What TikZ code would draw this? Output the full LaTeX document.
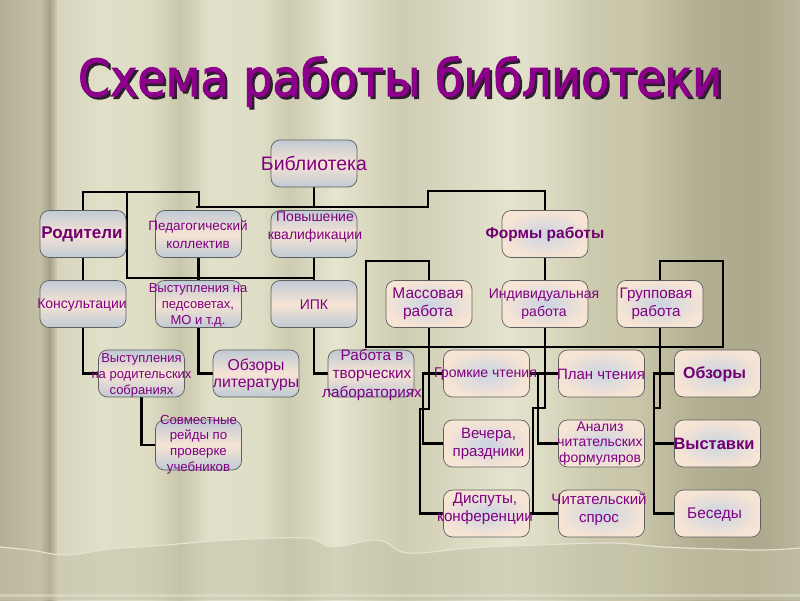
\documentclass[tikz,border=0pt]{standalone}
\usepackage{fontspec}
\usepackage{graphicx}
\setmainfont{Liberation Sans}
\newfontfamily\titlefont[FakeBold=2]{DejaVu Sans}
\pgfdeclarelayer{bg}
\pgfdeclarelayer{lines}
\pgfsetlayers{bg,lines,main}
\definecolor{bxgrey}{RGB}{192,202,212}
\definecolor{bxpeach}{RGB}{246,228,212}
\definecolor{bxblue}{RGB}{202,212,226}
\definecolor{bxline}{RGB}{95,95,95}
\definecolor{tpurple}{RGB}{128,0,128}
\definecolor{tpurpleb}{RGB}{112,0,112}
\definecolor{ttl}{RGB}{140,0,140}
\definecolor{ttlsh}{RGB}{45,30,45}
\definecolor{s0}{RGB}{180,175,150}
\definecolor{s1}{RGB}{195,192,165}
\definecolor{s2}{RGB}{165,160,135}
\definecolor{s3}{RGB}{215,213,190}
\definecolor{s4}{RGB}{224,223,200}
\definecolor{s5}{RGB}{222,221,196}
\definecolor{s6}{RGB}{200,198,170}
\definecolor{s7}{RGB}{225,225,202}
\definecolor{s8}{RGB}{222,222,198}
\definecolor{s9}{RGB}{205,203,176}
\definecolor{s10}{RGB}{230,230,208}
\definecolor{s11}{RGB}{222,221,197}
\definecolor{s12}{RGB}{206,205,178}
\definecolor{s13}{RGB}{214,213,188}
\definecolor{s14}{RGB}{228,228,207}
\definecolor{s15}{RGB}{220,219,195}
\definecolor{s16}{RGB}{205,203,175}
\definecolor{s17}{RGB}{200,197,168}
\definecolor{s18}{RGB}{178,174,145}
\definecolor{s19}{RGB}{172,168,140}
\definecolor{s20}{RGB}{185,182,155}
\definecolor{floor}{RGB}{196,194,166}
\definecolor{hem}{RGB}{228,226,208}
\tikzset{
  box/.style={draw=bxline, line width=0.7pt, rounded corners=9pt, minimum width=86pt, minimum height=47pt, inner sep=0pt},
  boxL/.style={box, top color=bxgrey, bottom color=bxgrey, middle color=bxpeach},
  boxR/.style={box, inner color=bxblue, outer color=bxpeach},
  txt/.style={text=tpurple, align=center, inner sep=0pt},
  txtb/.style={text=tpurpleb, align=center, inner sep=0pt},
  conn/.style={draw=black, line width=2.6pt}
}
\newcommand\fz[2]{\fontsize{#1}{#2}\selectfont}
\begin{document}
\begin{tikzpicture}[x=1pt,y=-1pt]
\useasboundingbox (0,0) rectangle (800,600);
\begin{pgfonlayer}{bg}
\foreach \xa/\xb/\ca/\cb in {0/40/s0/s1, 40/50/s1/s2, 50/58/s2/s3, 58/100/s3/s4, 100/150/s4/s5, 150/180/s5/s6, 180/210/s6/s7, 210/260/s7/s8, 260/290/s8/s9, 290/335/s9/s10, 335/355/s10/s11, 355/400/s11/s12, 400/440/s12/s13, 440/510/s13/s14, 510/545/s14/s15, 545/590/s15/s16, 590/640/s16/s17, 640/700/s17/s18, 700/755/s18/s19, 755/800/s19/s20}
  \shade[left color=\ca, right color=\cb] (\xa-0.5,0) rectangle (\xb+0.5,600);
\fill[floor, opacity=0.55] plot[smooth, tension=0.6] coordinates {(0,547) (30,550) (66,555) (110,549) (153,546) (230,540) (306,538) (332,547) (378,540) (408,553) (470,548) (540,545) (612,543) (663,547) (720,549) (765,550) (800,548)} -- (800,600) -- (0,600) -- cycle;
\draw[hem, line width=1.2pt] plot[smooth, tension=0.6] coordinates {(0,547) (30,550) (66,555) (110,549) (153,546) (230,540) (306,538) (332,547) (378,540) (408,553) (470,548) (540,545) (612,543) (663,547) (720,549) (765,550) (800,548)};
\fill[hem, opacity=0.5] (0,594) rectangle (800,597);
\end{pgfonlayer}

% title
\node[anchor=base, text=ttlsh] (titlesh) at (402.5,98.5) {\titlefont\fz{51}{56}\resizebox{644pt}{\height}{Схема работы библиотеки}};
\node[anchor=base, text=ttl] (title) at (400,96) {\titlefont\fz{51}{56}\resizebox{644pt}{\height}{Схема работы библиотеки}};

% boxes
\node[boxL] (bib) at (314,163.5) {};
\node[boxL] (rod) at (83,234) {};
\node[boxL] (ped) at (198.5,234) {};
\node[boxL] (pov) at (314,234) {};
\node[boxR] (forms) at (545,234) {};
\node[boxL] (kons) at (83,304) {};
\node[boxL] (vyst) at (198.5,304) {};
\node[boxL] (ipk) at (314,304) {};
\node[boxR] (mass) at (429,304) {};
\node[boxR] (ind) at (545,304) {};
\node[boxR] (grp) at (660,304) {};
\node[boxL] (vrs) at (141.5,373.5) {};
\node[boxL] (obzl) at (256,373.5) {};
\node[boxL] (tvor) at (371,373.5) {};
\node[boxR] (grom) at (486.5,373.5) {};
\node[boxR] (plan) at (601.5,373.5) {};
\node[boxR] (obz) at (717.5,373.5) {};
\node[boxL, minimum height=50pt] (sovm) at (198.5,445) {};
\node[boxR] (vech) at (486.5,443.5) {};
\node[boxR] (anal) at (601.5,443.5) {};
\node[boxR] (vystav) at (717.5,443.5) {};
\node[boxR] (disp) at (486.5,513.5) {};
\node[boxR] (chit) at (601.5,513.5) {};
\node[boxR] (bes) at (717.5,513.5) {};

% connectors
\begin{pgfonlayer}{lines}
\draw[conn] (bib.south) -- (314,207);
\draw[conn] (196,207) -- (428,207) -- (428,191) -- (545,191) -- (forms.north);
\draw[conn] (rod.north) -- (83,192) -- (199,192) -- (199,207);
\draw[conn] (127,192) -- (127,278) -- (314,278);
\draw[conn] (ped.south) -- (vyst.north);
\draw[conn] (pov.south) -- (ipk.north);
\draw[conn] (rod.south) -- (kons.north);
\draw[conn] (kons.south) |- (vrs.west);
\draw[conn] (vrs.south) |- (sovm.west);
\draw[conn] (vyst.south) |- (obzl.west);
\draw[conn] (ipk.south) |- (tvor.west);
\draw[conn] (forms.south) -- (ind.north);
\draw[conn] (mass.north) -- (429,261) -- (366,261) -- (366,347) -- (723,347) -- (723,261) -- (660,261) -- (grp.north);
\draw[conn] (mass.south) -- (429,409) -- (420,409) -- (420,513.5) -- (disp.west);
\draw[conn] (grom.west) -- (423,373.5) -- (423,443.5) -- (vech.west);
\draw[conn] (ind.south) -- (545,408) -- (533,408) -- (533,513.5);
\draw[conn] (disp.east) -- (chit.west);
\draw[conn] (grom.east) -- (plan.west);
\draw[conn] (538,373.5) -- (538,443.5) -- (anal.west);
\draw[conn] (grp.south) -- (660,408) -- (654,408);
\draw[conn] (obz.west) -- (654,373.5) -- (654,513.5) -- (bes.west);
\draw[conn] (654,443.5) -- (vystav.west);
\end{pgfonlayer}

% texts
\node[txt, font=\fz{19.5}{22}] (bibt) at (314,163) {Библиотека};
\node[txtb, font=\bfseries\fz{17}{20}] (rodt) at (82,234) {Родители};
\node[txt, font=\fz{13.5}{18}] (pedt) at (198,235) {Педагогический\\коллектив};
\node[txt, font=\fz{14}{18}] (povt) at (315,227) {Повышение\\квалификации};
\node[txtb, font=\bfseries\fz{15.5}{18}] (formt) at (545,234) {Формы работы};
\node[txt, font=\fz{14}{17}] (konst) at (82,305) {Консультации};
\node[txt, font=\fz{13}{16}] (vystt) at (198,305) {Выступления на\\педсоветах,\\МО и т.д.};
\node[txt, font=\fz{14}{17}] (ipkt) at (314,305) {ИПК};
\node[txt, font=\fz{15.5}{18}] (masst) at (428,304) {Массовая\\работа};
\node[txt, font=\fz{14}{18}] (indt) at (544,304) {Индивидуальная\\работа};
\node[txt, font=\fz{15.2}{18}] (grpt) at (656,304) {Групповая\\работа};
\node[txt, font=\fz{13}{16}] (vrst) at (141.5,375) {Выступления\\на родительских\\собраниях};
\node[txt, font=\fz{15.8}{17}] (obzlt) at (256,374.5) {Обзоры\\литературы};
\node[txt, font=\fz{15.3}{18.5}] (tvort) at (372,374.5) {Работа в\\творческих\\лабораториях};
\node[txt, font=\fz{13.2}{15.6}] (sovt) at (198.5,444.5) {Совместные\\рейды по\\проверке\\учебников};
\node[txt, font=\fz{14.1}{17}] (gromt) at (485.5,374) {Громкие чтения};
\node[txt, font=\fz{15}{17}] (plant) at (601,374) {План чтения};
\node[txtb, font=\bfseries\fz{16}{19}] (obzt) at (714.5,374) {Обзоры};
\node[txt, font=\fz{15}{18}] (vecht) at (488.5,444) {Вечера,\\праздники};
\node[txt, font=\fz{13.9}{15.5}] (analt) at (600,443.5) {Анализ\\читательских\\формуляров};
\node[txtb, font=\bfseries\fz{16.5}{19}] (vystavt) at (714,444) {Выставки};
\node[txt, font=\fz{15.2}{18}] (dispt) at (485,509) {Диспуты,\\конференции};
\node[txt, font=\fz{15}{18}] (chitt) at (599,509) {Читательский\\спрос};
\node[txt, font=\fz{15.4}{18}] (best) at (714.5,515) {Беседы};
\end{tikzpicture}
\end{document}
